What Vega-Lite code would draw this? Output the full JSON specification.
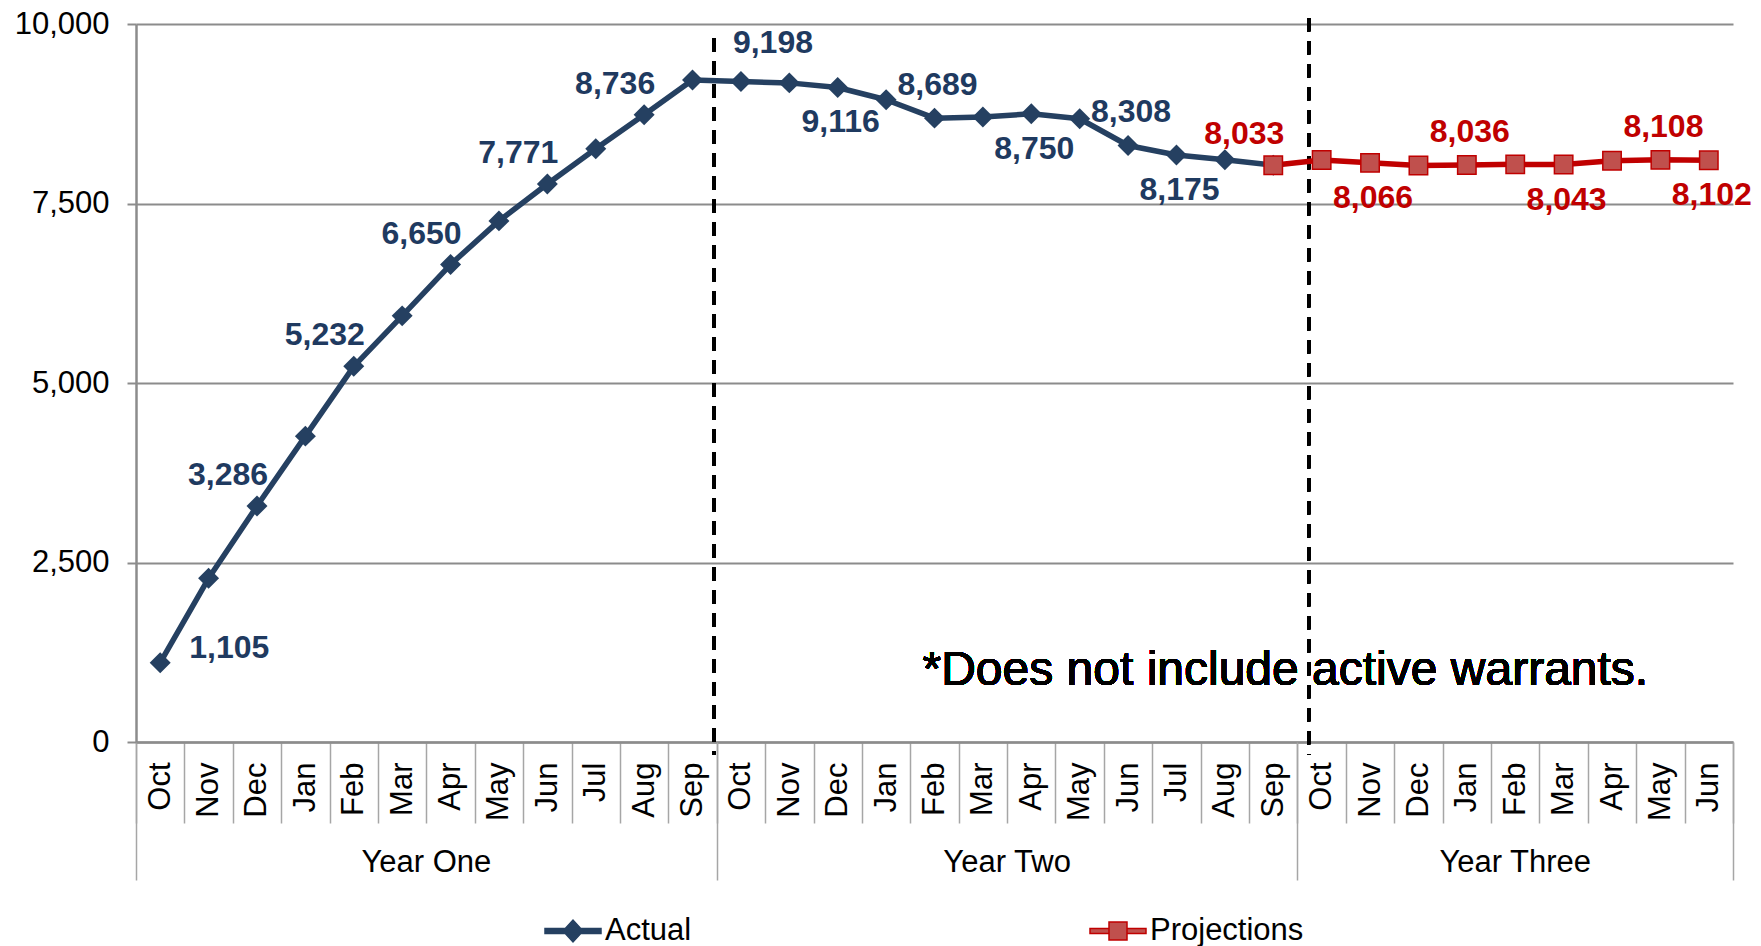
{
  "$schema": "https://vega.github.io/schema/vega-lite/v6.json",
  "autosize": {"type": "none"},
  "padding": {"left": 136, "top": 24, "right": 28, "bottom": 204},
  "width": 1597,
  "height": 718,
  "background": "#ffffff",
  "config": {"view": {"stroke": null}, "font": "Liberation Sans"},
  "datasets": {
    "pts": [
      {"key": "Y1-Oct", "series": "Actual", "value": 1105, "pos": "right"},
      {"key": "Y1-Nov", "series": "Actual", "value": 2280},
      {"key": "Y1-Dec", "series": "Actual", "value": 3286, "pos": "aboveleft"},
      {"key": "Y1-Jan", "series": "Actual", "value": 4260},
      {"key": "Y1-Feb", "series": "Actual", "value": 5232, "pos": "aboveleft"},
      {"key": "Y1-Mar", "series": "Actual", "value": 5935},
      {"key": "Y1-Apr", "series": "Actual", "value": 6650, "pos": "aboveleft"},
      {"key": "Y1-May", "series": "Actual", "value": 7258},
      {"key": "Y1-Jun", "series": "Actual", "value": 7771, "pos": "aboveleft"},
      {"key": "Y1-Jul", "series": "Actual", "value": 8262},
      {"key": "Y1-Aug", "series": "Actual", "value": 8736, "pos": "aboveleft"},
      {"key": "Y1-Sep", "series": "Actual", "value": 9220},
      {"key": "Y2-Oct", "series": "Actual", "value": 9198, "pos": "aboveright"},
      {"key": "Y2-Nov", "series": "Actual", "value": 9180},
      {"key": "Y2-Dec", "series": "Actual", "value": 9116, "pos": "below"},
      {"key": "Y2-Jan", "series": "Actual", "value": 8945},
      {"key": "Y2-Feb", "series": "Actual", "value": 8689, "pos": "above"},
      {"key": "Y2-Mar", "series": "Actual", "value": 8705},
      {"key": "Y2-Apr", "series": "Actual", "value": 8750, "pos": "below"},
      {"key": "Y2-May", "series": "Actual", "value": 8680},
      {"key": "Y2-Jun", "series": "Actual", "value": 8308, "pos": "above"},
      {"key": "Y2-Jul", "series": "Actual", "value": 8175, "pos": "below"},
      {"key": "Y2-Aug", "series": "Actual", "value": 8110},
      {"key": "Y2-Sep", "series": "Actual", "value": 8033},
      {"key": "Y2-Sep", "series": "Projections", "value": 8033, "pos": "aboveleft"},
      {"key": "Y3-Oct", "series": "Projections", "value": 8105},
      {"key": "Y3-Nov", "series": "Projections", "value": 8066, "pos": "below"},
      {"key": "Y3-Dec", "series": "Projections", "value": 8028},
      {"key": "Y3-Jan", "series": "Projections", "value": 8036, "pos": "above"},
      {"key": "Y3-Feb", "series": "Projections", "value": 8045},
      {"key": "Y3-Mar", "series": "Projections", "value": 8043, "pos": "below"},
      {"key": "Y3-Apr", "series": "Projections", "value": 8095},
      {"key": "Y3-May", "series": "Projections", "value": 8108, "pos": "above"},
      {"key": "Y3-Jun", "series": "Projections", "value": 8102, "pos": "below"}
    ],
    "years": [
      {"year": "Year One", "mid": 6},
      {"year": "Year Two", "mid": 18},
      {"year": "Year Three", "mid": 28.5}
    ]
  },
  "layer": [
    {
      "data": {"name": "pts"},
      "encoding": {
        "x": {
          "field": "key", "type": "ordinal",
          "scale": {
            "domain": ["Y1-Oct","Y1-Nov","Y1-Dec","Y1-Jan","Y1-Feb","Y1-Mar","Y1-Apr","Y1-May","Y1-Jun","Y1-Jul","Y1-Aug","Y1-Sep",
                       "Y2-Oct","Y2-Nov","Y2-Dec","Y2-Jan","Y2-Feb","Y2-Mar","Y2-Apr","Y2-May","Y2-Jun","Y2-Jul","Y2-Aug","Y2-Sep",
                       "Y3-Oct","Y3-Nov","Y3-Dec","Y3-Jan","Y3-Feb","Y3-Mar","Y3-Apr","Y3-May","Y3-Jun"],
            "paddingInner": 0, "paddingOuter": 0
          },
          "axis": {
            "title": null, "orient": "bottom", "grid": false,
            "tickBand": "extent", "tickSize": 81, "tickColor": "#a6a6a6", "tickWidth": 1.5,
            "labelAngle": -90, "labelPadding": -61, "labelFontSize": 31, "labelColor": "#000000",
            "labelFont": "Liberation Sans",
            "labelExpr": "split(datum.value, '-')[1]",
            "domainColor": "#8c8c8c", "domainWidth": 2.5
          }
        },
        "y": {
          "field": "value", "type": "quantitative",
          "scale": {"domain": [0, 10000], "nice": false},
          "axis": {
            "title": null, "values": [0, 2500, 5000, 7500, 10000], "format": ",.0f",
            "labelFontSize": 31, "labelColor": "#000000", "labelFont": "Liberation Sans", "labelPadding": 18,
            "tickSize": 9, "tickColor": "#8c8c8c", "tickWidth": 2,
            "domainColor": "#8c8c8c", "domainWidth": 2.5,
            "grid": true, "gridColor": "#8c8c8c", "gridWidth": 2
          }
        }
      },
      "layer": [
        {
          "mark": {"type": "rule", "strokeDash": [13, 10], "strokeWidth": 3, "color": "#000000", "xOffset": -27},
          "encoding": {"x": {"datum": "Y2-Oct"}, "y": {"datum": 9800}, "y2": {"datum": -180}}
        },
        {
          "mark": {"type": "rule", "strokeDash": [13, 10], "strokeWidth": 3, "color": "#000000", "xOffset": -13},
          "encoding": {"x": {"datum": "Y3-Oct"}, "y": {"datum": 10080}, "y2": {"datum": -180}}
        },
        {
          "mark": {"type": "line", "strokeWidth": 5.5, "strokeJoin": "round"},
          "encoding": {
            "color": {
              "field": "series", "type": "nominal",
              "scale": {"domain": ["Actual", "Projections"], "range": ["#254061", "#C00000"]},
              "legend": {
                "title": null, "orient": "none", "legendX": 416, "legendY": 886,
                "direction": "horizontal", "columnPadding": 395,
                "labelFontSize": 31, "labelFont": "Liberation Sans", "labelColor": "#000000",
                "labelOffset": 11, "symbolSize": 1600,
                "encode": {
                  "symbols": {
                    "update": {
                      "shape": {"signal": "datum.value == 'Actual' ? 'M-1.4,-0.12L1.4,-0.12L1.4,0.12L-1.4,0.12Z M-0.5,0L0,-0.55L0.5,0L0,0.55Z' : 'M-1.4,-0.12L-0.45,-0.12L-0.45,0.12L-1.4,0.12Z M0.45,-0.12L1.4,-0.12L1.4,0.12L0.45,0.12Z M-0.45,-0.45L0.45,-0.45L0.45,0.45L-0.45,0.45Z'"},
                      "fill": {"signal": "datum.value == 'Actual' ? '#254061' : '#C0504D'"},
                      "stroke": {"signal": "datum.value == 'Actual' ? '#254061' : '#C00000'"},
                      "strokeWidth": {"value": 1.5},
                      "opacity": {"value": 1},
                      "fillOpacity": {"value": 1}
                    }
                  }
                }
              }
            }
          }
        },
        {
          "transform": [{"filter": "datum.series == 'Actual'"}],
          "mark": {"type": "point", "shape": "diamond", "size": 440, "filled": true, "color": "#254061", "opacity": 1}
        },
        {
          "transform": [{"filter": "datum.series == 'Projections'"}],
          "mark": {"type": "point", "shape": "square", "size": 340, "filled": true, "fill": "#C0504D", "stroke": "#C00000", "strokeWidth": 1.5, "opacity": 1}
        },
        {
          "transform": [{"filter": "datum.pos == 'right'"}],
          "mark": {"type": "text", "align": "left", "baseline": "middle", "dx": 29, "dy": -15, "fontSize": 32, "fontWeight": "bold", "font": "Liberation Sans"},
          "encoding": {
            "text": {"field": "value", "format": ","},
            "color": {"condition": {"test": "datum.series == 'Actual'", "value": "#1F3A60"}, "value": "#C00000"}
          }
        },
        {
          "transform": [{"filter": "datum.pos == 'aboveleft'"}],
          "mark": {"type": "text", "align": "center", "baseline": "middle", "dx": -29, "dy": -31, "fontSize": 32, "fontWeight": "bold", "font": "Liberation Sans"},
          "encoding": {
            "text": {"field": "value", "format": ","},
            "color": {"condition": {"test": "datum.series == 'Actual'", "value": "#1F3A60"}, "value": "#C00000"}
          }
        },
        {
          "transform": [{"filter": "datum.pos == 'aboveright'"}],
          "mark": {"type": "text", "align": "center", "baseline": "middle", "dx": 32, "dy": -39, "fontSize": 32, "fontWeight": "bold", "font": "Liberation Sans"},
          "encoding": {
            "text": {"field": "value", "format": ","},
            "color": {"condition": {"test": "datum.series == 'Actual'", "value": "#1F3A60"}, "value": "#C00000"}
          }
        },
        {
          "transform": [{"filter": "datum.pos == 'above'"}],
          "mark": {"type": "text", "align": "center", "baseline": "middle", "dx": 3, "dy": -33, "fontSize": 32, "fontWeight": "bold", "font": "Liberation Sans"},
          "encoding": {
            "text": {"field": "value", "format": ","},
            "color": {"condition": {"test": "datum.series == 'Actual'", "value": "#1F3A60"}, "value": "#C00000"}
          }
        },
        {
          "transform": [{"filter": "datum.pos == 'below'"}],
          "mark": {"type": "text", "align": "center", "baseline": "middle", "dx": 3, "dy": 35, "fontSize": 32, "fontWeight": "bold", "font": "Liberation Sans"},
          "encoding": {
            "text": {"field": "value", "format": ","},
            "color": {"condition": {"test": "datum.series == 'Actual'", "value": "#1F3A60"}, "value": "#C00000"}
          }
        },
        {
          "mark": {"type": "text", "align": "left", "baseline": "alphabetic", "dx": -12, "fontSize": 48, "font": "Liberation Sans", "color": "#000000"},
          "encoding": {"x": {"datum": "Y2-Feb"}, "y": {"datum": 794}, "text": {"value": "*Does not include active warrants."}}
        }
      ]
    },
    {
      "data": {"name": "years"},
      "mark": {"type": "text", "align": "center", "baseline": "alphabetic", "fontSize": 31, "font": "Liberation Sans", "color": "#000000"},
      "encoding": {
        "x": {
          "field": "mid", "type": "quantitative",
          "scale": {"domain": [0, 33], "nice": false, "zero": false},
          "axis": {
            "orient": "bottom", "title": null, "values": [0, 12, 24, 33], "labels": false,
            "domain": false, "grid": false, "ticks": true, "tickSize": 138,
            "tickColor": "#a6a6a6", "tickWidth": 1.5
          }
        },
        "y": {
          "datum": -1810, "type": "quantitative",
          "axis": {
            "title": null, "values": [0, 2500, 5000, 7500, 10000], "format": ",.0f",
            "labelFontSize": 31, "labelColor": "#000000", "labelFont": "Liberation Sans", "labelPadding": 18,
            "tickSize": 9, "tickColor": "#8c8c8c", "tickWidth": 2,
            "domainColor": "#8c8c8c", "domainWidth": 2.5,
            "grid": true, "gridColor": "#8c8c8c", "gridWidth": 2
          }
        },
        "text": {"field": "year"}
      }
    }
  ],
  "resolve": {"scale": {"x": "independent"}}
}
